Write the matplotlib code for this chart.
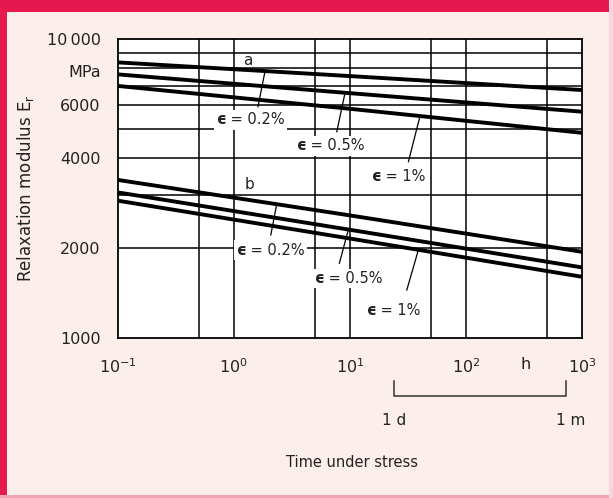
import matplotlib
matplotlib.use("Agg")
import matplotlib.pyplot as plt
from matplotlib.patches import Rectangle
from matplotlib.ticker import NullLocator
import numpy as np

# ---- data ----
time_h = [0.1, 10, 1000]
a_eps02 = [8370, 7530, 6760]
a_eps05 = [7630, 6600, 5720]
a_eps1 = [6980, 5850, 4860]
b_eps02 = [3380, 2570, 1940]
b_eps05 = [3070, 2300, 1720]
b_eps1 = [2880, 2150, 1600]

x_grid = [0.5, 1, 5, 10, 50, 100, 500]
y_grid = [2000, 3000, 4000, 5000, 6000, 7000, 8000, 9000]
x_ticks = [0.1, 1, 10, 100, 325, 1000]
x_ticklabels = ['$10^{-1}$', '$10^{0}$', '$10^{1}$', '$10^{2}$', 'h', '$10^{3}$']
y_ticks = [1000, 2000, 4000, 6000, 7800, 10000]
y_ticklabels = ['1000', '2000', '4000', '6000', 'MPa', '10\u2009000']
day_h, month_h = 24, 730

RED = '#E6194E'
PINK = '#FCEEEA'
TXT = '#222222'

fig = plt.figure(figsize=(6.13, 4.98), dpi=100, facecolor=PINK)
# frame decorations
fig.patches.append(Rectangle((0, 1 - 12/498), 1, 12/498, transform=fig.transFigure,
                             facecolor=RED, edgecolor='none', zorder=0))
fig.patches.append(Rectangle((0, 0), 7/613, 1, transform=fig.transFigure,
                             facecolor=RED, edgecolor='none', zorder=0))
fig.patches.append(Rectangle((0, 0), 1, 3/498, transform=fig.transFigure,
                             facecolor='#F3A3B6', edgecolor='none', zorder=0))
fig.patches.append(Rectangle((1 - 4/613, 0), 4/613, 1, transform=fig.transFigure,
                             facecolor='#F8D6DE', edgecolor='none', zorder=0))

ax = fig.add_axes([117.5/613, 1 - 337.7/498, 464.5/613, 298.4/498])
ax.set_facecolor('white')
ax.set_xscale('log')
ax.set_yscale('log')
ax.set_xlim(0.1, 1000)
ax.set_ylim(1000, 10000)

for xv in x_grid:
    ax.axvline(xv, color='black', lw=1.1, zorder=1)
for yv in y_grid:
    ax.axhline(yv, color='black', lw=1.1, zorder=1)

for s in [a_eps02, a_eps05, a_eps1, b_eps02, b_eps05, b_eps1]:
    ax.plot(time_h, s, color='black', lw=2.8, solid_capstyle='butt', zorder=3)

for sp in ax.spines.values():
    sp.set_linewidth(1.3)
    sp.set_color('black')

ax.xaxis.set_minor_locator(NullLocator())
ax.yaxis.set_minor_locator(NullLocator())
ax.set_xticks(x_ticks)
ax.set_xticklabels(x_ticklabels)
ax.set_yticks(y_ticks)
ax.set_yticklabels(y_ticklabels)
ax.tick_params(axis='both', length=0, labelsize=11.5, colors=TXT)
ax.tick_params(axis='y', pad=12)
ax.tick_params(axis='x', pad=14)

ax.set_ylabel('Relaxation modulus E$_\\mathregular{r}$', fontsize=12, color=TXT)
ax.yaxis.set_label_coords(-0.175, 0.5)

# annotation helper
def line_y(series, x):
    return 10 ** np.interp(np.log10(x), np.log10(time_h), np.log10(series))

box = dict(boxstyle='square,pad=0.15', facecolor='white', edgecolor='none')

def eps_label(text, left_xy, start, tip_x, series):
    ax.annotate(' = ' + text, xy=left_xy, xytext=(6.5, 0), textcoords='offset points',
                fontsize=10.5, ha='left', va='center', color=TXT, zorder=4, bbox=box)
    ax.annotate('\u03f5', xy=left_xy, xytext=(0, 0), textcoords='offset points',
                fontsize=11, fontweight='bold', ha='left', va='center', color=TXT,
                zorder=5, bbox=box)
    ax.plot([start[0], tip_x], [start[1], line_y(series, tip_x)], color='black', lw=0.9, zorder=2)

ax.text(1.33, 8500, 'a', fontsize=11, ha='center', va='center', color=TXT, zorder=4)
ax.text(1.36, 3250, 'b', fontsize=11, ha='center', va='center', color=TXT, zorder=4)

eps_label('0.2%', (0.715, 5365), (1.62, 5944), 1.865, a_eps02)
eps_label('0.5%', (3.50, 4390), (7.73, 4901), 9.11, a_eps05)
eps_label('1%', (15.47, 3463), (32.0, 3889), 40.3, a_eps1)
eps_label('0.2%', (1.063, 1967), (2.09, 2209), 2.35, b_eps02)
eps_label('0.5%', (5.02, 1581), (8.14, 1776), 9.73, b_eps05)
eps_label('1%', (14.0, 1238), (31.0, 1445), 39.0, b_eps1)

# bracket for 1 day .. 1 month
trans = ax.get_xaxis_transform()
ax.plot([day_h, day_h, month_h, month_h], [-0.145, -0.195, -0.195, -0.145], color='#333333',
        lw=1.1, transform=trans, clip_on=False)
ax.text(day_h, -0.2775, '1 d', fontsize=11, ha='center', va='center', transform=trans, color=TXT)
ax.text(month_h * 1.1, -0.2775, '1 m', fontsize=11, ha='center', va='center', transform=trans, color=TXT)

ax.text(0.505, -0.4166, 'Time under stress', fontsize=10.5, ha='center', va='center',
        transform=ax.transAxes, color=TXT)

fig.savefig('out.png', dpi=100, facecolor=PINK)
